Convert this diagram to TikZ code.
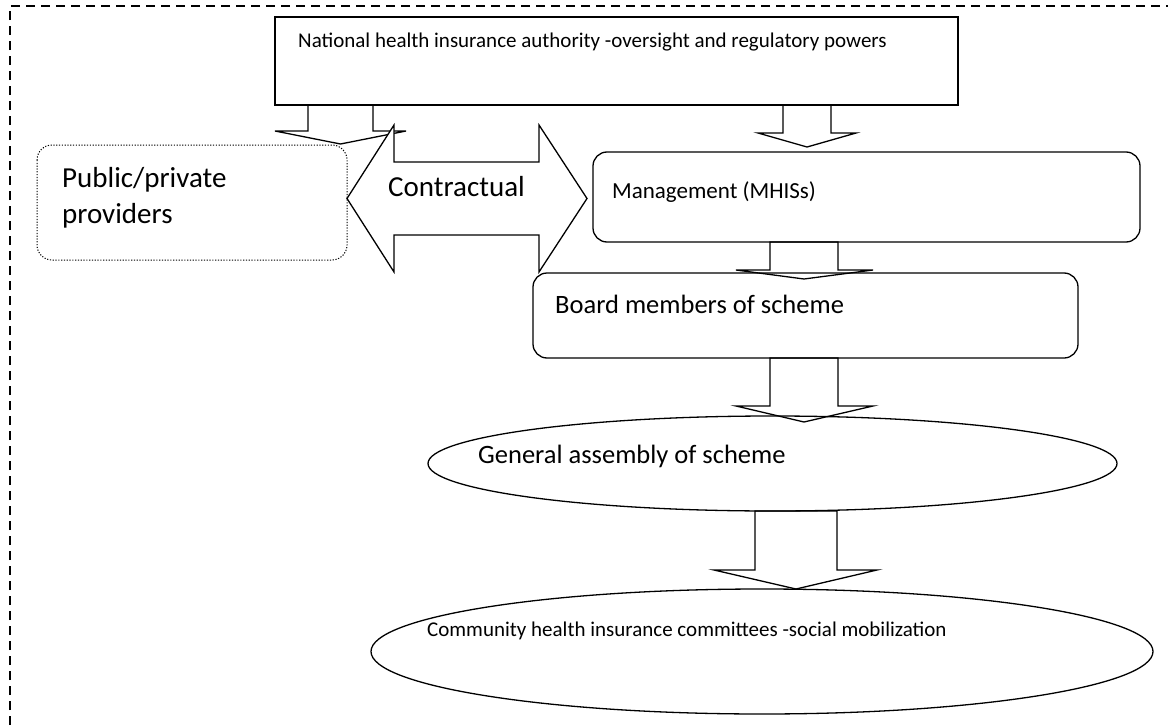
\documentclass[tikz,border=0pt]{standalone}
\usepackage{fontspec}
\setmainfont{Carlito}

\begin{document}
\begin{tikzpicture}[x=1pt,y=1pt,yscale=-1,xscale=1,
  box/.style={line width=1.3pt},
  blockarrow/.style={line width=1.3pt, fill=white, line join=miter},
  txt/.style={anchor=base west, inner sep=0pt}]
\useasboundingbox (0,0) rectangle (1168,728);

%Straight Lines: dashed frame
\draw [line width=1.3pt, dash pattern={on 9pt off 6pt}]  (10,740) -- (10,6) -- (1180,6) ;

%Shape: Down Arrow (authority to providers)
\draw [blockarrow] (308,105) -- (308,131) -- (275,131) -- (340.5,144) -- (406,131) -- (373,131) -- (373,105) -- cycle ;
%Shape: Down Arrow (authority to management)
\draw [blockarrow] (783,105) -- (783,133) -- (758,133) -- (807,147) -- (856,133) -- (831,133) -- (831,105) -- cycle ;
%Shape: Left-Right Arrow
\draw [blockarrow] (347,198.5) -- (394,125) -- (394,162) -- (539,162) -- (539,125) -- (587,198.5) -- (539,272) -- (539,235) -- (394,235) -- (394,272) -- cycle ;
%Shape: Down Arrow (management to board)
\draw [blockarrow] (770,242) -- (770,270) -- (736,270) -- (804,279) -- (873,270) -- (838,270) -- (838,242) -- cycle ;
%Shape: Down Arrow (board to assembly)
\draw [blockarrow] (770,358) -- (770,406) -- (736,406) -- (804,422) -- (873,406) -- (838,406) -- (838,358) -- cycle ;
%Shape: Down Arrow (assembly to committees)
\draw [blockarrow] (755,511) -- (755,570) -- (714,570) -- (796,589) -- (877,570) -- (837,570) -- (837,511) -- cycle ;

%Shape: Rectangle
\draw [box] (275,17) rectangle (958,105) ;
%Shape: Rounded Rect (dotted)
\draw [line width=1pt, dash pattern={on 1.2pt off 1.6pt}, rounded corners=15pt] (37,145) rectangle (347,260) ;
%Shape: Rounded Rect
\draw [box, rounded corners=14pt] (593,152) rectangle (1140,242) ;
%Shape: Rounded Rect
\draw [box, rounded corners=14pt] (533,273) rectangle (1078,358) ;
%Shape: Ellipse
\draw [box] (772.5,463.5) ellipse [x radius=344.5, y radius=47.5] ;
%Shape: Ellipse
\draw [box] (762,651.5) ellipse [x radius=391, y radius=62.5] ;

% Text Node
\node (authority) [txt, font=\fontsize{21}{25}\selectfont] at (298,47) {National health insurance authority -oversight and regulatory powers};
% Text Node
\node (public) [txt, font=\fontsize{29}{35}\selectfont] at (62,187) {Public/private};
% Text Node
\node (providers) [txt, font=\fontsize{29}{35}\selectfont] at (62,223) {providers};
% Text Node
\node (contract) [txt, font=\fontsize{29}{35}\selectfont] at (388,196) {Contractual};
% Text Node
\node (management) [txt, font=\fontsize{23}{28}\selectfont] at (612,198) {Management (MHISs)};
% Text Node
\node (board) [txt, font=\fontsize{26.5}{32}\selectfont] at (555,313) {Board members of scheme};
% Text Node
\node (assembly) [txt, font=\fontsize{26.5}{32}\selectfont] at (478,463) {General assembly of scheme};
% Text Node
\node (committees) [txt, font=\fontsize{21}{25}\selectfont] at (427,636) {Community health insurance committees -social mobilization};

\end{tikzpicture}
\end{document}
